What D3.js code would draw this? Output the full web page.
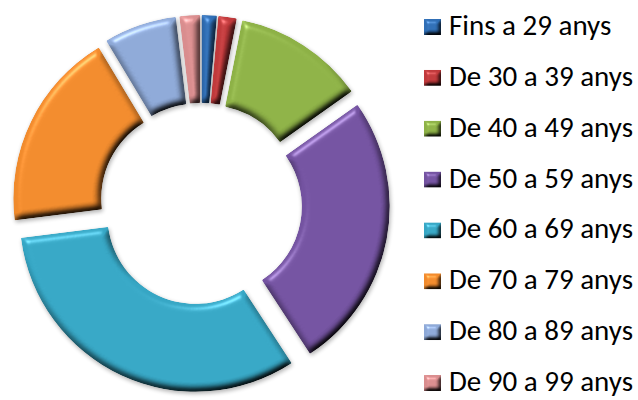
<!DOCTYPE html>
<html>
<head>
<meta charset="utf-8">
<script src="https://cdnjs.cloudflare.com/ajax/libs/d3/7.8.5/d3.min.js"></script>
<style>
  body { margin: 0; background: #fff; }
  text { font-family: Calibri, Carlito, "Liberation Sans", Arial, sans-serif; }
</style>
</head>
<body>
<div id="chart"></div>
<script>
// Age groups and their share of the total (%)
const categories = ['Fins a 29 anys', 'De 30 a 39 anys', 'De 40 a 49 anys', 'De 50 a 59 anys',
  'De 60 a 69 anys', 'De 70 a 79 anys', 'De 80 a 89 anys', 'De 90 a 99 anys'];
const values = [1.4, 1.7, 12.1, 25.6, 32.2, 18.4, 6.7, 1.9];
const palette = ['#2f6eb5', '#c0393b', '#8db146', '#7352a0', '#36a6c4', '#f08a2c', '#8da8d6', '#d98d8e'];

const width = 638, height = 400;
const cx = 201, cy = 204;
const outerR = 176, innerR = 88, explode = 13;

const color = d3.scaleOrdinal().domain(categories).range(palette);

const svg = d3.select('#chart')
  .append('svg')
  .attr('width', width)
  .attr('height', height);

const defs = svg.append('defs');

// soft bevel: lighting on the blurred alpha, plus a small drop shadow
const makeBevel = (id, blur, scale, spec, shadow) => {
  const f = defs.append('filter')
    .attr('id', id)
    .attr('x', '-20%').attr('y', '-20%')
    .attr('width', '140%').attr('height', '140%')
    .attr('color-interpolation-filters', 'sRGB');
  f.append('feGaussianBlur').attr('in', 'SourceAlpha').attr('stdDeviation', blur).attr('result', 'b');
  f.append('feDiffuseLighting')
    .attr('in', 'b').attr('surfaceScale', scale).attr('diffuseConstant', 1.414)
    .attr('lighting-color', '#fff').attr('result', 'diff')
    .append('feDistantLight').attr('azimuth', 240).attr('elevation', 45);
  f.append('feComposite').attr('in', 'SourceGraphic').attr('in2', 'diff')
    .attr('operator', 'arithmetic').attr('k1', 1).attr('result', 'shaded');
  f.append('feSpecularLighting')
    .attr('in', 'b').attr('surfaceScale', scale).attr('specularConstant', spec)
    .attr('specularExponent', 40).attr('lighting-color', '#fff').attr('result', 'spec')
    .append('feDistantLight').attr('azimuth', 240).attr('elevation', 45);
  f.append('feComposite').attr('in', 'spec').attr('in2', 'SourceAlpha')
    .attr('operator', 'in').attr('result', 'spec2');
  f.append('feComposite').attr('in', 'shaded').attr('in2', 'spec2')
    .attr('operator', 'arithmetic').attr('k2', 1).attr('k3', 1).attr('result', 'lit');
  f.append('feComposite').attr('in', 'lit').attr('in2', 'SourceAlpha')
    .attr('operator', 'in').attr('result', 'final');
  if (shadow) {
    f.append('feGaussianBlur').attr('in', 'SourceAlpha').attr('stdDeviation', 2).attr('result', 'sb');
    f.append('feOffset').attr('in', 'sb').attr('dx', 1).attr('dy', 2).attr('result', 'so');
    f.append('feComponentTransfer').attr('in', 'so').attr('result', 'sh')
      .append('feFuncA').attr('type', 'linear').attr('slope', 0.3);
    const m = f.append('feMerge');
    m.append('feMergeNode').attr('in', 'sh');
    m.append('feMergeNode').attr('in', 'final');
  }
};
makeBevel('bevel', 3.5, 4, 0.3, true);
makeBevel('bevelSmall', 2, 3, 0.3, false);

const pie = d3.pie().sort(null).value(d => d);
const arc = d3.arc().innerRadius(innerR).outerRadius(outerR).cornerRadius(1);

const arcs = pie(values);

svg.append('g')
  .attr('transform', `translate(${cx},${cy})`)
  .selectAll('path')
  .data(arcs)
  .enter().append('path')
  .attr('d', arc)
  .attr('fill', (d, i) => color(categories[i]))
  .attr('filter', 'url(#bevel)')
  .attr('transform', d => {
    const mid = (d.startAngle + d.endAngle) / 2;
    return `translate(${explode * Math.sin(mid)},${-explode * Math.cos(mid)})`;
  });

// Legend
const legendY = d3.scalePoint().domain(categories).range([27, 383]);

const legend = svg.append('g')
  .selectAll('g')
  .data(categories)
  .enter().append('g')
  .attr('transform', d => `translate(424,${legendY(d)})`);

legend.append('rect')
  .attr('x', 0).attr('y', -8)
  .attr('width', 17).attr('height', 16)
  .attr('fill', d => color(d))
  .attr('filter', 'url(#bevelSmall)');

legend.append('text')
  .attr('x', 25)
  .attr('y', 8)
  .attr('font-size', 29)
  .attr('fill', '#000')
  .text(d => d);
</script>
</body>
</html>
